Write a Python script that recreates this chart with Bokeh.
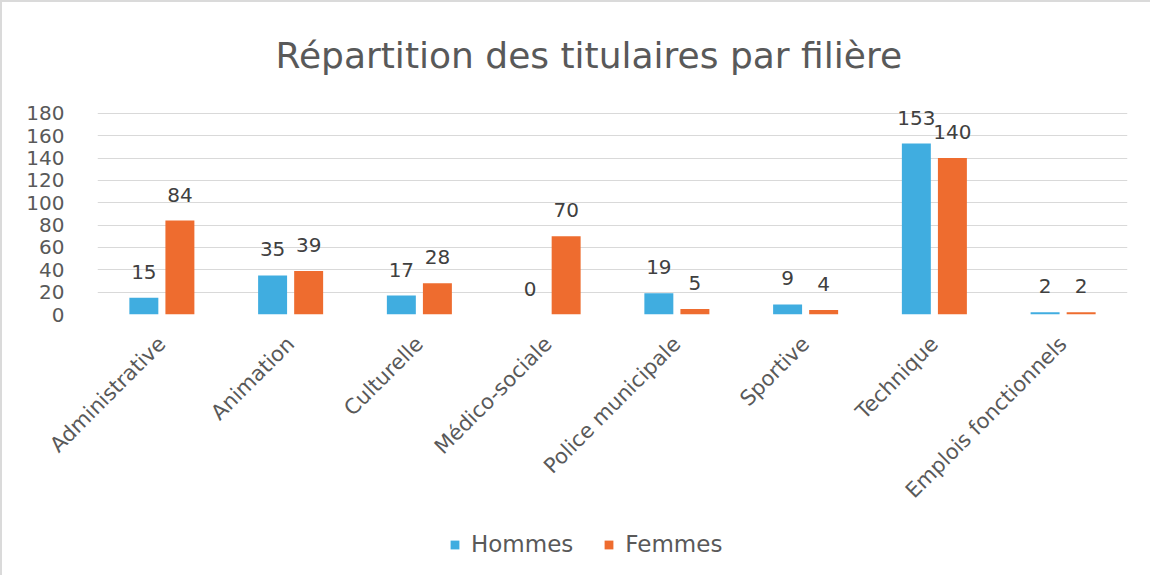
from bokeh.plotting import figure
from bokeh.layouts import column
from bokeh.models import ColumnDataSource, FactorRange, Range1d, LabelSet, Legend, LegendItem, FixedTicker, Title
from bokeh.transform import dodge
from bokeh.core.properties import value
from bokeh.embed import file_html
from bokeh.resources import INLINE
import math

categories = ["Administrative", "Animation", "Culturelle", "Médico-sociale",
              "Police municipale", "Sportive", "Technique", "Emplois fonctionnels"]
hommes = [15, 35, 17, 0, 19, 9, 153, 2]
femmes = [84, 39, 28, 70, 5, 4, 140, 2]
series_names = ["Hommes", "Femmes"]
y_ticks = [0, 20, 40, 60, 80, 100, 120, 140, 160, 180]

BLUE = "#40ADE0"
ORANGE = "#EE6C2F"
TXT = "#595959"
FONT = "DejaVu Sans"

src = ColumnDataSource(data=dict(cat=categories, h=hommes, f=femmes,
                                 hl=[str(v) for v in hommes], fl=[str(v) for v in femmes]))

p = figure(x_range=FactorRange(*categories), y_range=Range1d(0, 187),
           width=1150, height=520, output_backend="svg", toolbar_location=None,
           min_border_left=95, min_border_right=25, min_border_top=93, min_border_bottom=208)
p.title = None
p.outline_line_color = None
p.styles = {"border-top": "2px solid #dadada", "border-left": "2px solid #dadada"}

p.add_layout(Title(text="Répartition des titulaires par filière", align="left",
                   text_font_size="36px", text_font_style="normal", text_color=TXT,
                   text_font=FONT, offset=178, standoff=60), "above")

rb = p.vbar(x=dodge("cat", -0.14, range=p.x_range), top="h", width=0.225, source=src,
            fill_color=BLUE, line_color=None)
ro = p.vbar(x=dodge("cat", 0.14, range=p.x_range), top="f", width=0.225, source=src,
            fill_color=ORANGE, line_color=None)

for col, lab, off in (("h", "hl", -0.14), ("f", "fl", 0.14)):
    p.add_layout(LabelSet(x=dodge("cat", off, range=p.x_range), y=col, text=lab, source=src,
                          y_offset=19, text_align="center", text_baseline="bottom",
                          text_font_size="20px", text_color="#404040", text_font=value(FONT)))

p.xgrid.grid_line_color = None
p.ygrid.grid_line_color = "#d9d9d9"
p.ygrid.grid_line_width = 1
p.yaxis.ticker = FixedTicker(ticks=y_ticks)
for ax in (p.xaxis[0], p.yaxis[0]):
    ax.axis_line_color = None
    ax.major_tick_line_color = None
    ax.minor_tick_line_color = None
    ax.major_label_text_color = TXT
    ax.major_label_text_font = FONT
p.yaxis.major_label_text_font_size = "20px"
p.xaxis.major_label_text_font_size = "21px"
p.yaxis.major_label_standoff = 27
p.xaxis.major_label_orientation = math.pi / 4
p.xaxis.major_label_standoff = 20
p.x_range.range_padding = 0
p.x_range.group_padding = 0

# legend in a small companion figure below the chart
pl = figure(width=1150, height=55, output_backend="svg", toolbar_location=None,
            x_range=Range1d(0, 1), y_range=Range1d(0, 1),
            min_border=0)
pl.axis.visible = False
pl.grid.visible = False
pl.outline_line_color = None
pl.styles = {"border-left": "2px solid #dadada"}
hidden = ColumnDataSource(data=dict(x=[-5], top=[-5]))
lb = pl.vbar(x="x", top="top", width=0.1, source=hidden, fill_color=BLUE, line_color=None)
lo = pl.vbar(x="x", top="top", width=0.1, source=hidden, fill_color=ORANGE, line_color=None)
legend = Legend(items=[LegendItem(label=series_names[0], renderers=[lb]),
                       LegendItem(label=series_names[1], renderers=[lo])],
                orientation="horizontal", location=(352, 18),
                label_text_font_size="23px", label_text_color=TXT, label_text_font=FONT,
                glyph_width=11, glyph_height=11, spacing=30, label_standoff=11,
                margin=0, padding=0,
                border_line_color=None, background_fill_alpha=0)
pl.add_layout(legend, "center")

layout = column(p, pl, spacing=0)
open("out.html", "w").write(file_html(layout, INLINE))
